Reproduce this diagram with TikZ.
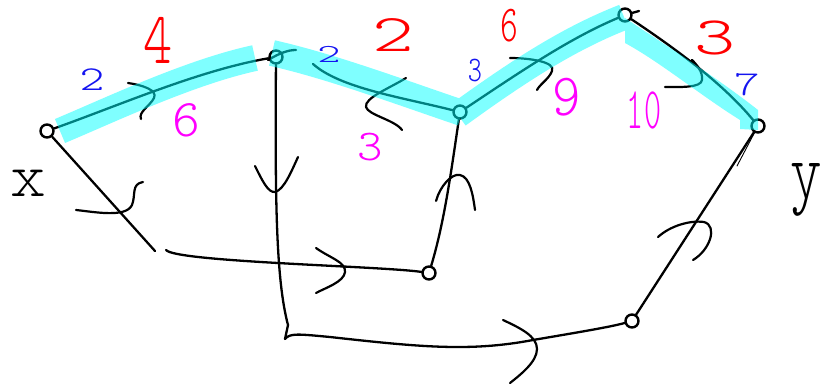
\documentclass[tikz,border=0pt]{standalone}
\usepackage{fontspec}
\newfontfamily\hand{Latin Modern Mono Light}
\definecolor{aqua}{RGB}{0,255,255}
\definecolor{pen}{RGB}{0,0,0}
\definecolor{penred}{RGB}{255,0,0}
\definecolor{penblue}{RGB}{20,20,240}
\definecolor{penpink}{RGB}{255,0,255}
\begin{document}
\begin{tikzpicture}[x=1pt,y=-1pt,
  vtx/.style={circle, draw=pen, line width=2.4pt, minimum size=13pt, inner sep=0pt},
  edge/.style={pen, line width=2.3pt, line cap=round, line join=round},
  squig/.style={pen, line width=2.2pt, line cap=round, line join=round},
  fine/.style={pen, line width=0.9pt, line cap=round},
  band/.style={aqua, line width=26pt},
  num/.style={inner sep=0pt},
  wt/.style={font=\fontsize{#1}{#1}\selectfont\hand}]
\useasboundingbox (0,0) rectangle (821,390);

% vertices
\node[vtx] (x) at (47,131) {};
\node[vtx] (a) at (276,57) {};
\node[vtx] (b) at (460,112) {};
\node[vtx] (c) at (625,15) {};
\node[vtx] (y) at (758,126) {};
\node[vtx] (d) at (429,273) {};
\node[vtx] (e) at (632,321) {};
\coordinate (p1) at (155,251);
\coordinate (p2) at (166,250);
\coordinate (q) at (285,339);
\coordinate (ab0) at (313,64);
\coordinate (yt) at (737,166);

% edges along the top path
\draw[edge] (x) .. controls (120,105) and (200,70) .. (a);
\draw[edge] (268,60) .. controls (280,53) and (288,50) .. (296,50);
\draw[edge] (ab0) .. controls (340,88) and (400,97) .. (b);
\draw[edge] (b) .. controls (520,72) and (570,38) .. (c);
\draw[edge] (c) -- ++(14,-4);
\draw[edge] (c) .. controls (670,45) and (722,82) .. (y);

% remaining edges
\draw[edge] (p1) -- (x);
\draw[edge] (p2) .. controls (176,262) and (380,266) .. (d);
\draw[edge] (a) .. controls (275,200) and (276,280) .. (288,325) -- (q)
  .. controls (290,333) and (298,334) .. (330,337)
  .. controls (420,347) and (470,352) .. (533,340)
  .. controls (580,332) and (610,327) .. (e);
\draw[edge] (d) .. controls (445,220) and (452,165) .. (b);
\draw[edge] (e) -- (y);
\draw[fine] (y) -- (yt);

% direction strokes on the edges
\draw[squig] (128,83) .. controls (142,85) and (158,90) .. (154,98)
  .. controls (150,106) and (138,112) .. (141,119);
\draw[squig] (406,78) .. controls (390,88) and (364,98) .. (366,107)
  .. controls (368,115) and (395,120) .. (402,130);
\draw[squig] (510,58) .. controls (530,58) and (556,62) .. (552,71)
  .. controls (549,79) and (540,84) .. (537,90);
\draw[squig] (665,87) .. controls (680,87) and (701,88) .. (702,80)
  .. controls (703,72) and (697,65) .. (692,60);
\draw[squig] (76,210) .. controls (95,212) and (126,218) .. (132,205)
  .. controls (136,195) and (131,184) .. (143,182);
\draw[squig] (316,248) .. controls (330,258) and (346,262) .. (345,272)
  .. controls (344,282) and (325,288) .. (316,293);
\draw[squig] (255,166) .. controls (262,180) and (268,193) .. (275,192)
  .. controls (284,190) and (292,170) .. (298,157);
\draw[squig] (436,201) .. controls (440,186) and (452,173) .. (460,175)
  .. controls (470,177) and (473,195) .. (475,210);
\draw[squig] (503,320) .. controls (520,328) and (537,336) .. (537,349)
  .. controls (537,362) and (520,375) .. (510,383);
\draw[squig] (658,237) .. controls (670,226) and (690,220) .. (704,222)
  .. controls (718,226) and (710,250) .. (693,260);

% highlighted path
\begin{scope}[transparency group, opacity=0.5]
  \draw[band] (60,131) .. controls (110,110) and (190,72) .. (255,58);
  \draw[band] (272,53) .. controls (330,66) and (400,92) .. (462,113);
  \draw[band] (458,115) .. controls (520,70) and (570,38) .. (624,17);
  \fill[aqua] (625,18) .. controls (670,48) and (720,80) .. (758,110)
    -- (758,130) -- (740,129) -- (740,120)
    .. controls (700,95) and (660,62) .. (625,43) -- cycle;
\end{scope}

% end labels
\node[num, wt=62] (lx) at (28,183) {\scalebox{1.1}[1]{x}};
\node[num, wt=80] (ly) at (806,190) {\scalebox{0.75}[1]{y}};

% weights on x-a
\node[num, penblue, wt=35] (w1) at (92,80) {\scalebox{1.35}[1]{2}};
\node[num, penred, wt=74] (w2) at (158,40) {\scalebox{0.75}[1]{4}};
\node[num, penpink, wt=53] (w3) at (186,120) {6};
% weights on a-b
\node[num, penblue, wt=26] (w4) at (329,54) {\scalebox{1.7}[1]{2}};
\node[num, penred, wt=53] (w5) at (393,35) {\scalebox{1.5}[1]{2}};
\node[num, penpink, wt=44] (w6) at (370,147) {\scalebox{1.1}[1]{3}};
% weights on b-c
\node[num, penblue, wt=36] (w7) at (475,71) {\scalebox{0.75}[1]{3}};
\node[num, penred, wt=52] (w8) at (509,26) {\scalebox{0.65}[1]{6}};
\node[num, penpink, wt=60] (w9) at (567,97) {\scalebox{0.9}[1]{9}};
% weights on c-y
\node[num, penred, wt=54] (w10) at (715,38) {\scalebox{1.45}[1]{3}};
\node[num, penblue, wt=35] (w11) at (747,85) {\scalebox{1.4}[1]{7}};
\node[num, penpink, wt=59] (w12) at (644,110) {\scalebox{0.55}[1]{10}};
\end{tikzpicture}
\end{document}
